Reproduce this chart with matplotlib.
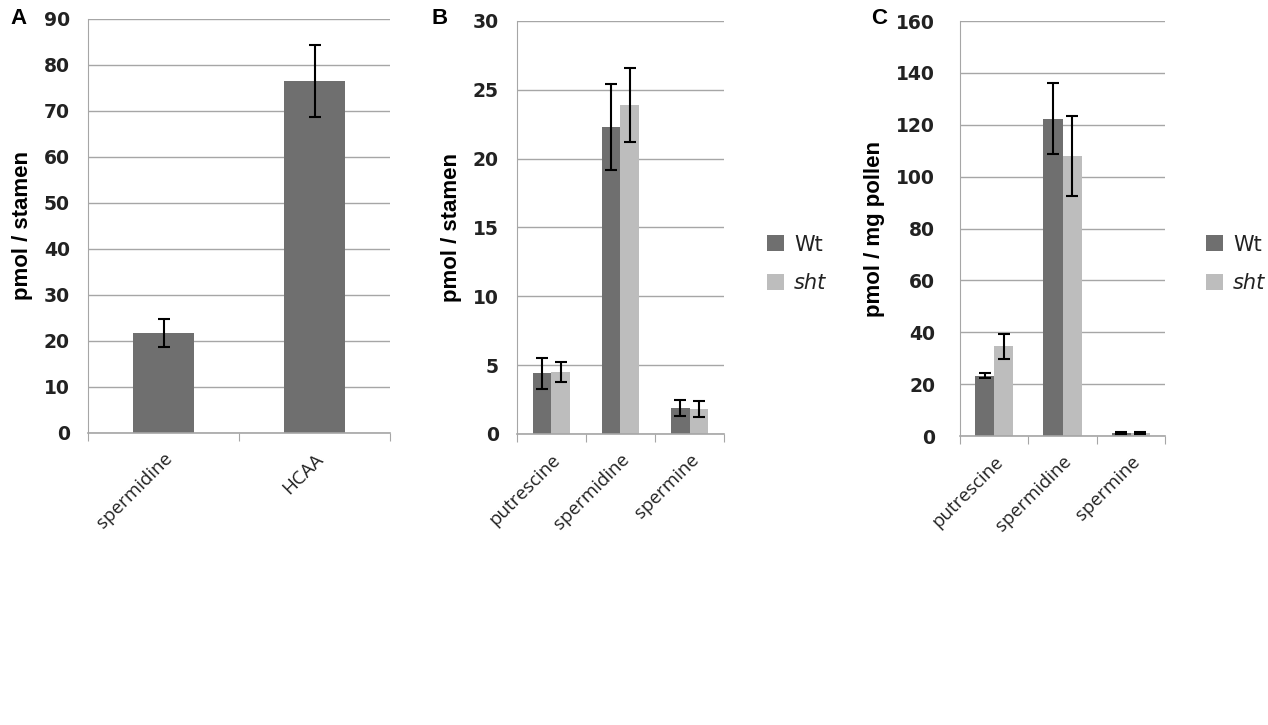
import numpy as np
import matplotlib.pyplot as plt
from matplotlib.patches import Patch

# Panel A data
cats_a = ["spermidine", "HCAA"]
vals_a = [21.7, 76.6]
err_a = [3.1, 7.8]

# Panel B data (pmol / stamen)
cats_b = ["putrescine", "spermidine", "spermine"]
wt_b = [4.4, 22.3, 1.9]
wt_b_err = [1.1, 3.1, 0.6]
sht_b = [4.5, 23.9, 1.8]
sht_b_err = [0.7, 2.7, 0.6]

# Panel C data (pmol / mg pollen)
cats_c = ["putrescine", "spermidine", "spermine"]
wt_c = [23.3, 122.4, 1.0]
wt_c_err = [1.0, 13.8, 0.4]
sht_c = [34.6, 108.0, 1.0]
sht_c_err = [4.8, 15.3, 0.4]

wt_col = "#6f6f6f"
sht_col = "#bdbdbd"
grid_col = "#a6a6a6"
tick_font = "DejaVu Sans"
cat_font = "Open Sans"
lab_font = ["Liberation Sans Narrow", "Liberation Sans"]

fig = plt.figure(figsize=(12.68, 7.25), dpi=100)
axA = fig.add_axes([0.0694, 0.4028, 0.2382, 0.5710])
axB = fig.add_axes([0.4077, 0.4014, 0.1633, 0.5697])
axC = fig.add_axes([0.7571, 0.3986, 0.1617, 0.5724])


def style_axis(ax, cats, ymax, ystep, ylabel, ypad):
    n = len(cats)
    ax.set_xlim(0, n)
    ax.set_ylim(0, ymax)
    ax.set_yticks(np.arange(0, ymax + ystep / 2, ystep))
    ax.yaxis.grid(True, color=grid_col, linewidth=1.0)
    ax.set_axisbelow(True)
    for s in ["top", "right"]:
        ax.spines[s].set_visible(False)
    ax.spines["left"].set_color(grid_col)
    ax.spines["bottom"].set_color(grid_col)
    ax.spines["bottom"].set_linewidth(1.2)
    ax.tick_params(axis="y", length=0, pad=ypad)
    for lbl in ax.get_yticklabels():
        lbl.set_fontfamily(tick_font)
        lbl.set_fontweight("bold")
        lbl.set_fontsize(13.5)
        lbl.set_color("#222222")
    ax.set_xticks(np.arange(0, n + 1))
    ax.set_xticklabels([])
    ax.tick_params(axis="x", which="major", length=6, color=grid_col, direction="out")
    ax.set_xticks(np.arange(n) + 0.5, minor=True)
    ax.set_xticklabels(cats, minor=True, rotation=45, ha="right",
                       rotation_mode="anchor", fontfamily=cat_font, fontsize=13.5,
                       color="#222222")
    ax.tick_params(axis="x", which="minor", length=0, pad=12)
    ax.set_ylabel(ylabel, fontfamily=lab_font, fontweight="bold", fontsize=16,
                  labelpad=8)


# Panel A
xa = np.arange(len(cats_a)) + 0.5
axA.bar(xa, vals_a, width=0.4, color=wt_col, zorder=2)
axA.errorbar(xa, vals_a, yerr=err_a, fmt="none", ecolor="black", elinewidth=1.5,
             capsize=4.5, capthick=1.5, zorder=3)
style_axis(axA, cats_a, 90, 10, "pmol / stamen", 13)


def grouped(ax, cats, wt, wt_err, sht, sht_err, w):
    x = np.arange(len(cats)) + 0.5
    ax.bar(x - w / 2, wt, width=w, color=wt_col, zorder=2, label="Wt")
    ax.bar(x + w / 2, sht, width=w, color=sht_col, zorder=2, label="sht")
    ax.errorbar(x - w / 2, wt, yerr=wt_err, fmt="none", ecolor="black",
                elinewidth=1.5, capsize=4, capthick=1.5, zorder=3)
    ax.errorbar(x + w / 2, sht, yerr=sht_err, fmt="none", ecolor="black",
                elinewidth=1.5, capsize=4, capthick=1.5, zorder=3)


grouped(axB, cats_b, wt_b, wt_b_err, sht_b, sht_b_err, 0.27)
style_axis(axB, cats_b, 30, 5, "pmol / stamen", 13)

grouped(axC, cats_c, wt_c, wt_c_err, sht_c, sht_c_err, 0.28)
style_axis(axC, cats_c, 160, 20, "pmol / mg pollen", 18)

# Legends
handles = [Patch(facecolor=wt_col), Patch(facecolor=sht_col)]
for xpos in [0.605, 0.951]:
    leg = fig.legend(handles, ["Wt", "sht"], loc="center left",
                     bbox_to_anchor=(xpos, 0.636), frameon=False,
                     borderpad=0, borderaxespad=0,
                     handlelength=0.8, handleheight=0.8, handletextpad=0.5,
                     labelspacing=0.9, prop={"family": "DejaVu Sans", "size": 15})
    leg.get_texts()[1].set_fontstyle("italic")
    for t in leg.get_texts():
        t.set_color("#222222")

# Panel letters
for letter, xl in [("A", 0.008), ("B", 0.340), ("C", 0.687)]:
    fig.text(xl, 0.974, letter, fontfamily="Liberation Sans", fontweight="bold",
             fontsize=16, va="center", ha="left")

fig.savefig("out.png", dpi=100)
